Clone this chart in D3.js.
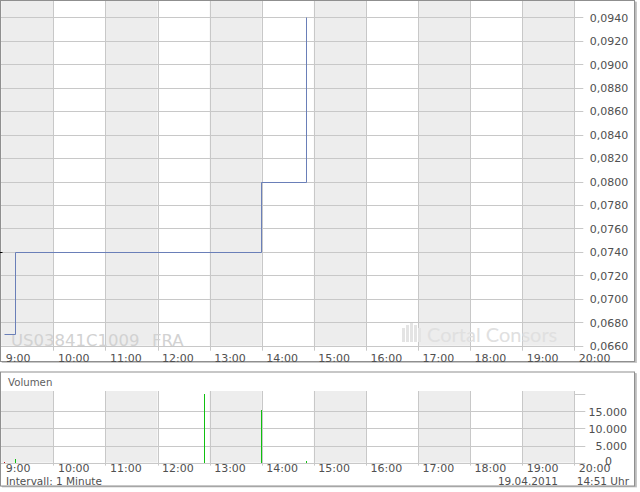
<!DOCTYPE html>
<html><head><meta charset="utf-8">
<script src="https://cdn.jsdelivr.net/npm/d3@7"></script>
<style>body{margin:0;background:#fff}text{font-family:"DejaVu Sans",Verdana,sans-serif}</style>
</head><body><svg id="c" width="640" height="492"></svg>
<script>
const hourLabels = ["9:00","10:00","11:00","12:00","13:00","14:00","15:00","16:00","17:00","18:00","19:00","20:00"];
const priceTicks = [0.066,0.068,0.070,0.072,0.074,0.076,0.078,0.080,0.082,0.084,0.086,0.088,0.090,0.092,0.094];
const priceTimes = ["9:03","9:16","13:59","14:51"];
const priceValues = [0.067,0.074,0.080,0.094];
const prevClose = 0.074;
const volumeTimes = ["9:03","9:16","12:54","13:59","14:51"];
const volumeValues = [300,1000,20100,15400,400];
const volumeDirection = ["down","up","up","up","up"];
const volumeTicks = [0,5000,10000,15000,20000];
const volumeLabelTicks = [0,5000,10000,15000];
const symbolText = "US03841C1009";
const exchangeText = "FRA";
const brandText = "Cortal Consors";
const panelTitle = "Volumen";
const intervalText = "Intervall: 1 Minute";
const dateText = "19.04.2011";
const timeText = "14:51 Uhr";

const toMin = s => { const [h,m] = s.split(":").map(Number); return h*60+m; };
const loc = d3.formatLocale({decimal:",", thousands:".", grouping:[3], currency:["","€"]});
const fPrice = loc.format(".4f"), fVol = loc.format(",.0f");
const px = v => Math.round(v) + 0.5;

const svg = d3.select("#c");
const hours = hourLabels.map(toMin);
const x = d3.scaleLinear().domain([hours[0], hours[hours.length-1]]).range([1.3, 574.3]);
const y = d3.scaleLinear().domain([0.066, 0.094]).range([345.7, 17.3]);
const yv = d3.scaleLinear().domain([0, 20000]).range([462.6, 394.3]);

const GRID = "#c8c8c8", SHADE = "#ededed", TXT = "#505050";

// ---------- panel frames with shadow ----------
function panel(y0, h) {
  svg.append("rect").attr("x", 2).attr("y", y0+2).attr("width", 635).attr("height", h).attr("fill", "#d4d4d4");
  svg.append("rect").attr("x", 1.5).attr("y", y0+1.5).attr("width", 635).attr("height", h).attr("fill", "#bcbcbc");
  svg.append("rect").attr("x", 0.5).attr("y", y0+0.5).attr("width", 634).attr("height", h).attr("fill", "#fff").attr("stroke", "#8f8f8f");
}
panel(0, 361);
panel(371.5, 114);

// ---------- MAIN PANEL ----------
const mTop = 1, mBot = y.range()[0];
const shadeHours = hours.slice(0, -1).filter((h, i) => i % 2 === 0);
svg.append("g").selectAll("rect").data(shadeHours).join("rect")
  .attr("x", d => x(d)).attr("width", d => x(d+60) - x(d))
  .attr("y", mTop).attr("height", mBot - mTop).attr("fill", SHADE);

// horizontal grid (extends as ticks to the right)
svg.append("g").selectAll("line").data(priceTicks).join("line")
  .attr("x1", 1).attr("x2", x.range()[1] + 9)
  .attr("y1", d => px(y(d))).attr("y2", d => px(y(d)))
  .attr("stroke", GRID);
// vertical grid
svg.append("g").selectAll("line").data(hours.slice(1)).join("line")
  .attr("x1", d => px(x(d))).attr("x2", d => px(x(d)))
  .attr("y1", mTop).attr("y2", mBot + 5).attr("stroke", GRID);

// y axis labels (right)
const yAxis = d3.axisRight(y).tickValues(priceTicks).tickFormat(fPrice).tickSize(0).tickPadding(0);
const ya = svg.append("g").attr("transform", `translate(${x.range()[1] + 15.5},0)`).call(yAxis);
ya.select(".domain").remove();
ya.selectAll("text").attr("fill", TXT).style("font-size", "11px").attr("dy", "0.35em");

// x axis labels
const xAxis = d3.axisBottom(x).tickValues(hours).tickFormat((d, i) => hourLabels[i]).tickSize(0).tickPadding(0);
const xa = svg.append("g").attr("transform", `translate(0,${mBot})`).call(xAxis);
xa.select(".domain").remove();
xa.selectAll("text").attr("text-anchor", "start").attr("dx", 4).attr("y", 16).attr("dy", 0)
  .attr("fill", TXT).style("font-size", "11px");

// watermarks
svg.append("text").attr("x", 11).attr("y", 346).attr("fill", "#d2d2d2").style("font-size", "16.5px")
  .text(symbolText);
svg.append("text").attr("x", 152).attr("y", 346).attr("fill", "#d2d2d2").style("font-size", "16.5px")
  .text(exchangeText);
const logo = svg.append("g").attr("fill", "#e4e4e4");
[[402,328,3,14],[406,325,3,17],[410,323,3,19],[414,325,3,17],[418,328,3,14]].forEach(r => {
  logo.append("rect").attr("x", r[0]).attr("y", r[1]).attr("width", r[2]).attr("height", r[3]);
});
svg.append("text").attr("x", 427).attr("y", 341.5).attr("fill", "#e0e0e0")
  .style("font-family", "Lato,'Open Sans',sans-serif").style("font-size", "20px")
  .text(brandText);

// previous close marker
svg.append("line").attr("x1", 0).attr("x2", 2.5).attr("y1", px(y(prevClose))).attr("y2", px(y(prevClose)))
  .attr("stroke", "#000");

// price line
const pts = priceTimes.map((t, i) => [px(x(toMin(t))), px(y(priceValues[i]))]);
svg.append("path").attr("d", d3.line().curve(d3.curveStepAfter)(pts))
  .attr("fill", "none").attr("stroke", "#6a7fb8").attr("stroke-width", 1);

// ---------- VOLUME PANEL ----------
const vTop = 391, vBot = yv(0);
svg.append("text").attr("x", 8).attr("y", 386).attr("fill", "#606060").style("font-size", "10.2px").text(panelTitle);
svg.append("g").selectAll("rect").data(shadeHours).join("rect")
  .attr("x", d => x(d)).attr("width", d => x(d+60) - x(d))
  .attr("y", vTop).attr("height", vBot - vTop).attr("fill", SHADE);
svg.append("g").selectAll("line").data(volumeTicks).join("line")
  .attr("x1", d => (d === 0 || d === 20000) ? x.range()[1] : 1).attr("x2", x.range()[1] + 11)
  .attr("y1", d => px(yv(d))).attr("y2", d => px(yv(d)))
  .attr("stroke", GRID);
svg.append("line").attr("x1", 1).attr("x2", x.range()[1]).attr("y1", px(vBot)).attr("y2", px(vBot))
  .attr("stroke", GRID);
svg.append("g").selectAll("line").data(hours.slice(1)).join("line")
  .attr("x1", d => px(x(d))).attr("x2", d => px(x(d)))
  .attr("y1", vTop).attr("y2", vBot + 3).attr("stroke", GRID);

// volume bars
svg.append("g").selectAll("line").data(volumeValues).join("line")
  .attr("x1", (d, i) => px(x(toMin(volumeTimes[i])))).attr("x2", (d, i) => px(x(toMin(volumeTimes[i]))))
  .attr("y1", Math.round(yv(0))).attr("y2", d => Math.round(yv(d)))
  .attr("stroke", (d, i) => volumeDirection[i] === "up" ? "#10c010" : "#c01010").attr("stroke-width", 1);

// volume labels
const vAxis = d3.axisRight(yv).tickValues(volumeLabelTicks).tickFormat(fVol).tickSize(0).tickPadding(0);
const va = svg.append("g").attr("transform", `translate(627,0)`).call(vAxis);
va.select(".domain").remove();
va.selectAll("text").attr("text-anchor", "end").attr("dy", "0.35em").attr("fill", TXT).style("font-size", "11px")
  .attr("x", d => d === 0 ? -15 : 0).attr("y", d => d === 0 ? -2 : 0);

const xa2 = svg.append("g").attr("transform", `translate(0,${vBot})`).call(xAxis);
xa2.select(".domain").remove();
xa2.selectAll("text").attr("text-anchor", "start").attr("dx", 4).attr("y", 9.5).attr("dy", 0)
  .attr("fill", TXT).style("font-size", "11px");

svg.append("text").attr("x", 6).attr("y", 484.5).attr("fill", TXT).style("font-size", "10.5px").text(intervalText);
svg.append("text").attr("x", 558).attr("y", 484.5).attr("text-anchor", "end").attr("fill", TXT).style("font-size", "10.5px").text(dateText);
svg.append("text").attr("x", 629).attr("y", 484.5).attr("text-anchor", "end").attr("fill", TXT).style("font-size", "10.5px").text(timeText);
</script></body></html>
